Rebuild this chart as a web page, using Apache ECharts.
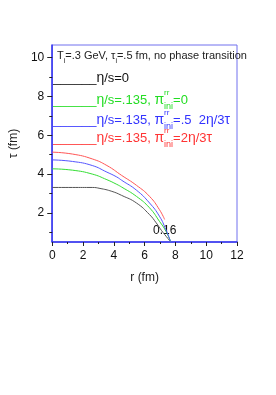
<!DOCTYPE html>
<html><head><meta charset="utf-8">
<script src="https://cdn.jsdelivr.net/npm/echarts@6/dist/echarts.min.js"></script>
<style>html,body{margin:0;padding:0;background:#fff}#c{width:276px;height:395px}</style>
</head><body><div id="c"></div>
<script>
// radial positions (fm) and freeze-out times tau (fm)
var rBlack = [0, 1.32, 2.6, 3.1, 3.87, 4.51, 5.47, 6.32, 6.75, 7.1, 7.4, 7.7];
var tauBlack = [3.31, 3.31, 3.31, 3.26, 3.11, 2.9, 2.51, 1.91, 1.49, 1.09, 0.79, 0.5];
var rGreen = [0, 1.32, 2.6, 3.55, 4.19, 4.51, 5.47, 6.32, 6.96, 7.38, 7.7];
var tauGreen = [4.27, 4.2, 4.0, 3.71, 3.47, 3.33, 2.85, 2.26, 1.57, 1.06, 0.5];
var rBlue = [0, 1.32, 2.6, 3.55, 4.19, 4.51, 5.47, 6.32, 6.96, 7.38, 7.7];
var tauBlue = [4.73, 4.65, 4.44, 4.1, 3.85, 3.68, 3.17, 2.51, 1.83, 1.14, 0.5];
var rRed = [0, 1.32, 2.6, 3.55, 4.51, 5.47, 6.32, 6.96, 7.3];
var tauRed = [5.13, 5.03, 4.78, 4.44, 3.93, 3.42, 2.85, 2.17, 1.66];
var yMajorTicks = [2, 4, 6, 8, 10];
var yMinorTicks = [1, 3, 5, 7, 9];
var contourLabel = '0.16';

function pairs(xs, ys) { return xs.map(function (x, i) { return [x, ys[i]]; }); }

var chart = echarts.init(document.getElementById('c'), null, {renderer: 'canvas'});
var axisBlue = '#3030f0';
var fontFam = 'Liberation Sans, Arial, sans-serif';
var grid = {left: 49, right: 39, top: 45, bottom: 153, show: true, borderColor: '#7070ee', borderWidth: 1};

function legendRow(y, color, body) {
  return {
    type: 'text', left: 53, top: y,
    style: {
      text: body, fill: color,
      rich: {
        a: {fontSize: 13, fontFamily: fontFam, fill: color, lineHeight: 22, verticalAlign: 'middle'},
        g: {fontSize: 14, fontFamily: fontFam, fill: color, lineHeight: 22, verticalAlign: 'middle'},
        sup: {fontSize: 8, fontFamily: fontFam, fill: color, lineHeight: 22, verticalAlign: 'top', width: 0.01},
        sub: {fontSize: 9, fontFamily: fontFam, fill: color, lineHeight: 22, verticalAlign: 'bottom'}
      }
    }
  };
}

function line(data, color) {
  return {type: 'line', data: data, smooth: 0.5, showSymbol: false,
    lineStyle: {color: color, width: 1}};
}

var option = {
  animation: false,
  grid: grid,
  xAxis: {
    type: 'value', min: 0, max: 12, interval: 2,
    name: 'r (fm)', nameLocation: 'middle', nameGap: 30,
    nameTextStyle: {fontSize: 12, color: '#222', fontFamily: fontFam},
    axisLine: {lineStyle: {color: axisBlue, width: 1.5}},
    axisTick: {show: true, length: 4, lineStyle: {color: '#222'}},
    minorTick: {show: true, splitNumber: 2, length: 2, lineStyle: {color: '#222'}},
    axisLabel: {fontSize: 12, color: '#111', fontFamily: fontFam, margin: 8},
    splitLine: {show: false}
  },
  yAxis: [{
    type: 'value', min: 0.5, max: 10.65,
    name: 'τ (fm)', nameLocation: 'middle', nameGap: 28,
    nameTextStyle: {fontSize: 12, color: '#222', fontFamily: fontFam},
    axisLine: {lineStyle: {color: axisBlue, width: 1.5}},
    axisTick: {show: true, length: 5, customValues: yMajorTicks, lineStyle: {color: '#222'}},
    axisLabel: {fontSize: 12, color: '#111', fontFamily: fontFam, margin: 8, customValues: yMajorTicks},
    splitLine: {show: false}
  }, {
    type: 'value', min: 0.5, max: 10.65, position: 'left',
    axisLine: {show: false},
    axisTick: {show: true, length: 3, customValues: yMinorTicks, lineStyle: {color: '#222'}},
    axisLabel: {show: false, customValues: yMinorTicks},
    splitLine: {show: false}
  }],
  series: [
    line(pairs(rBlack, tauBlack), '#555'),
    line(pairs(rGreen, tauGreen), '#33dd33'),
    line(pairs(rBlue, tauBlue), '#5555ff'),
    line(pairs(rRed, tauRed), '#ff5555')
  ],
  graphic: [
    {
      type: 'text', left: 57, top: 50,
      style: {
        text: '{a|T}{s|i}{a|=.3 GeV, τ}{s|i}{a|=.5 fm, no phase transition}',
        rich: {
          a: {fontSize: 11, fontFamily: fontFam, fill: '#222', lineHeight: 18, verticalAlign: 'middle'},
          s: {fontSize: 7, fontFamily: fontFam, fill: '#222', lineHeight: 18, verticalAlign: 'bottom'}
        }
      }
    },
    legendRow(71, '#111', '{a|______}{g|η}{a|/s=0}'),
    legendRow(89, '#22dd22', '{a|______}{g|η}{a|/s=.135, }{g|π}{sup|rr}{sub|ini}{a|=0}'),
    legendRow(109, '#3333ff', '{a|______}{g|η}{a|/s=.135, }{g|π}{sup|rr}{sub|ini}{a|=.5  2}{g|η}{a|/3}{g|τ}'),
    legendRow(127, '#ff3333', '{a|______}{g|η}{a|/s=.135, }{g|π}{sup|rr}{sub|ini}{a|=2}{g|η}{a|/3}{g|τ}'),
    {
      type: 'text', left: 153, top: 225,
      style: {text: contourLabel, fontSize: 12, fontFamily: fontFam, fill: '#111'}
    }
  ]
};
chart.setOption(option);
</script>
</body></html>
